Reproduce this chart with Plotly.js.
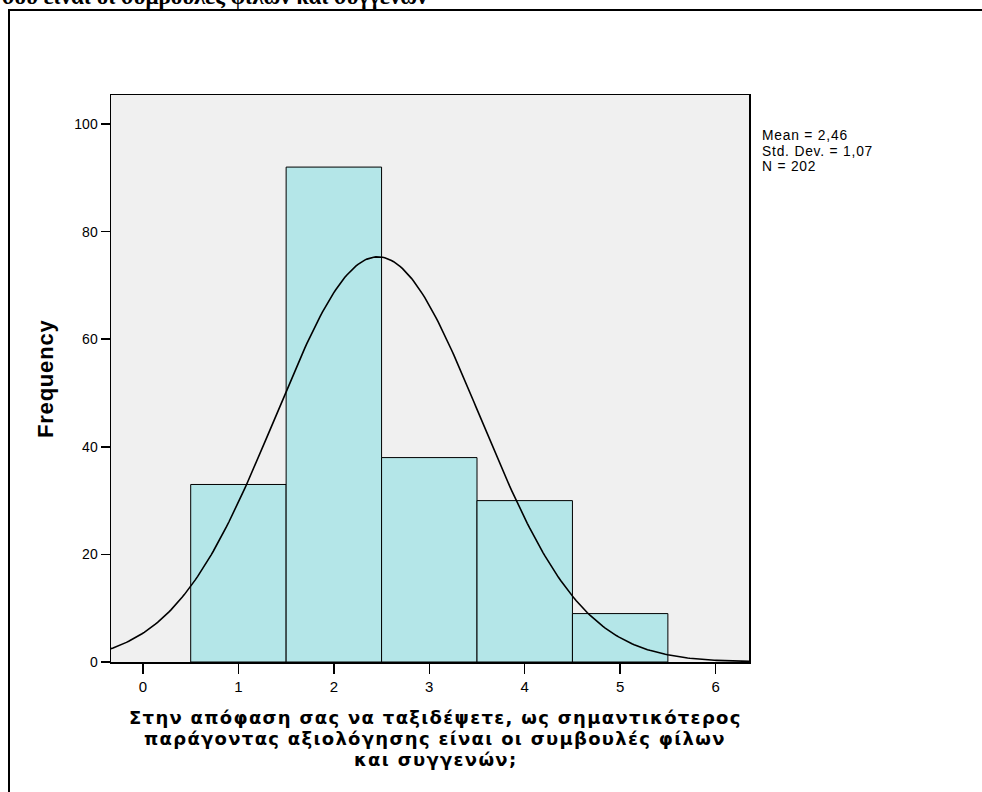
<!DOCTYPE html>
<html>
<head>
<meta charset="utf-8">
<script src="https://cdn.plot.ly/plotly-3.0.1.min.js"></script>
<style>html,body{margin:0;padding:0;background:#fff;}#chart{width:982px;height:792px;}</style>
</head>
<body>
<div id="chart"></div>
<script>
const binCenters = [1, 2, 3, 4, 5];
const frequencies = [33, 92, 38, 30, 9];
const statMean = 2.46;
const statSD = 1.07;
const statN = 202;
const xTicks = [0, 1, 2, 3, 4, 5, 6];
const yTicks = [0, 20, 40, 60, 80, 100];
const statsLines = ["Mean = 2,46", "Std. Dev. = 1,07", "N = 202"];
const xTitleLines = [
  "Στην απόφαση σας να ταξιδέψετε, ως σημαντικότερος",
  "παράγοντας αξιολόγησης είναι οι συμβουλές φίλων",
  "και συγγενών;"
];
const yTitle = "Frequency";
const topText = "σου είναι οι συμβουλές φίλων και συγγενών";

// Normal curve from the stated mean / sd / N (bin width 1)
const curveX = [];
const curveY = [];
for (let i = 0; i <= 300; i++) {
  const x = -0.5 + i * 7 / 300;
  curveX.push(x);
  curveY.push(statN / (statSD * Math.sqrt(2 * Math.PI)) * Math.exp(-0.5 * Math.pow((x - statMean) / statSD, 2)));
}

const L = 111, R = 749, T = 95, B = 662, W = 982, H = 792;
const pw = R - L, ph = B - T;
const px = v => (v - L) / pw;
const py = v => (B - v) / ph;
const spaced = (t, ls) => '<span style="letter-spacing:' + ls + 'px">' + t + '</span>';

const traces = [
  {
    type: 'bar', x: binCenters, y: frequencies, width: 1,
    marker: {color: '#b4e6e8', line: {color: '#000', width: 1}},
    hoverinfo: 'skip'
  },
  {
    type: 'scatter', mode: 'lines', x: curveX, y: curveY,
    line: {color: '#000', width: 1.6}, hoverinfo: 'skip'
  }
];

const annotations = [];
statsLines.forEach((t, i) => {
  annotations.push({xref: 'paper', yref: 'paper', x: px(761), y: py(135.5 + i * 15.5),
    xanchor: 'left', yanchor: 'middle', text: spaced(t, 0.8), showarrow: false, align: 'left',
    borderpad: 0, font: {size: 13.8}});
});
xTitleLines.forEach((t, i) => {
  annotations.push({xref: 'paper', yref: 'paper', x: px(435), y: py(717 + i * 21),
    xanchor: 'center', yanchor: 'middle', text: spaced(t, 1.3), showarrow: false,
    borderpad: 0, font: {size: 18, family: '"DejaVu Sans", Arial, sans-serif', weight: 'bold'}});
});
annotations.push({xref: 'paper', yref: 'paper', x: px(45), y: py(379),
  xanchor: 'center', yanchor: 'middle', text: spaced(yTitle, 0.8), textangle: -90, showarrow: false,
  font: {size: 22, weight: 'bold'}});
annotations.push({xref: 'paper', yref: 'paper', x: px(0), y: py(11), xanchor: 'left', yanchor: 'bottom',
  text: topText, showarrow: false, align: 'left',
  font: {size: 23, family: '"Liberation Serif", "Times New Roman", serif', weight: 'bold'}});

const layout = {
  width: W, height: H,
  margin: {l: L, r: W - R, t: T, b: H - B},
  paper_bgcolor: '#fff',
  plot_bgcolor: '#f0f0f0',
  showlegend: false,
  bargap: 0,
  font: {family: 'Arial, "Liberation Sans", sans-serif', color: '#000', size: 13},
  xaxis: {
    range: [-0.335, 6.35], tickvals: xTicks, ticktext: xTicks.map(String),
    ticks: 'outside', ticklen: 10, tickwidth: 1.5, tickcolor: '#000',
    showgrid: false, zeroline: false,
    showline: true, linecolor: '#000', linewidth: 1.5, mirror: true,
    tickfont: {size: 15}
  },
  yaxis: {
    range: [0, 105.4], tickvals: yTicks, ticktext: yTicks.map(String),
    ticks: 'outside', ticklen: 9, tickwidth: 1.5, tickcolor: '#000',
    showgrid: false, zeroline: false,
    showline: true, linecolor: '#000', linewidth: 1.5, mirror: true,
    tickfont: {size: 14}
  },
  shapes: [
    {type: 'rect', xref: 'paper', yref: 'paper', x0: px(9), x1: px(1100), y0: py(900), y1: py(10),
     line: {color: '#000', width: 2}, fillcolor: 'rgba(0,0,0,0)', layer: 'below'}
  ],
  annotations: annotations
};

Plotly.newPlot('chart', traces, layout, {displayModeBar: false, staticPlot: true});
</script>
</body>
</html>
